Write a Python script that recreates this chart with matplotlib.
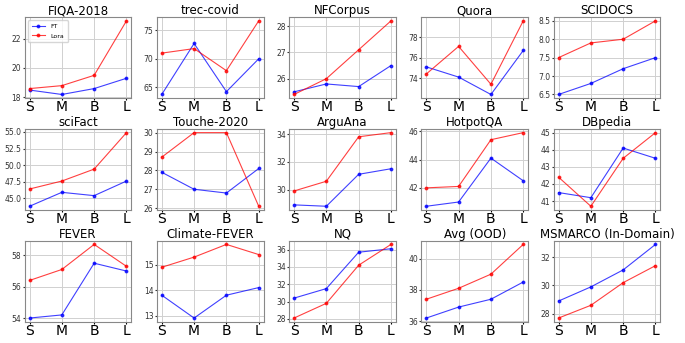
import matplotlib
matplotlib.use("Agg")
import matplotlib.pyplot as plt

sizes = ["S", "M", "B", "L"]

titles = [
    "FIQA-2018", "trec-covid", "NFCorpus", "Quora", "SCIDOCS",
    "sciFact", "Touche-2020", "ArguAna", "HotpotQA", "DBpedia",
    "FEVER", "Climate-FEVER", "NQ", "Avg (OOD)", "MSMARCO (In-Domain)",
]

ft_scores = [
    [18.5, 18.2, 18.6, 19.3],
    [63.7, 72.7, 64.2, 70.0],
    [25.5, 25.8, 25.7, 26.5],
    [75.1, 74.1, 72.4, 76.7],
    [6.5, 6.8, 7.2, 7.5],
    [43.8, 45.9, 45.4, 47.6],
    [27.9, 27.0, 26.8, 28.1],
    [28.9, 28.8, 31.1, 31.5],
    [40.7, 41.0, 44.1, 42.5],
    [41.5, 41.2, 44.1, 43.5],
    [54.0, 54.2, 57.5, 57.0],
    [13.8, 12.9, 13.8, 14.1],
    [30.4, 31.5, 35.7, 36.1],
    [36.2, 36.9, 37.4, 38.5],
    [28.9, 29.9, 31.1, 32.9],
]

lora_scores = [
    [18.6, 18.8, 19.5, 23.2],
    [71.0, 71.8, 67.9, 76.7],
    [25.4, 26.0, 27.1, 28.2],
    [74.4, 77.1, 73.4, 79.6],
    [7.5, 7.9, 8.0, 8.5],
    [46.4, 47.6, 49.4, 54.9],
    [28.7, 30.0, 30.0, 26.1],
    [29.9, 30.6, 33.8, 34.1],
    [42.0, 42.1, 45.4, 45.9],
    [42.4, 40.7, 43.5, 45.0],
    [56.4, 57.1, 58.7, 57.3],
    [14.9, 15.3, 15.8, 15.4],
    [28.1, 29.8, 34.2, 36.6],
    [37.4, 38.1, 39.0, 40.9],
    [27.7, 28.6, 30.2, 31.4],
]

fig, axes = plt.subplots(3, 5, figsize=(6.85, 3.43), dpi=100)
fig.subplots_adjust(left=0.036, right=0.964, top=0.95, bottom=0.062, wspace=0.24, hspace=0.38)

for i, ax in enumerate(axes.flat):
    ax.plot(sizes, ft_scores[i], color="blue", marker="o", ms=1.8, lw=0.8, alpha=0.75, label="FT")
    ax.plot(sizes, lora_scores[i], color="red", marker="o", ms=1.8, lw=0.8, alpha=0.75, label="Lora")
    ax.set_title(titles[i], fontsize=8.5, pad=1.5)
    ax.grid(True, color="#d0d0d0", lw=0.7)
    ax.set_axisbelow(True)
    ax.tick_params(axis="y", labelsize=5.5, length=1.5, pad=1, colors="#333333")
    ax.tick_params(axis="x", labelsize=10, length=1.5, pad=0)
    for sp in ax.spines.values():
        sp.set_color("#888888")
        sp.set_linewidth(0.8)
    if i == 0:
        ax.legend(loc="upper left", fontsize=4.5, handlelength=2.2, borderpad=0.6, labelspacing=0.6)

plt.savefig("out.png", dpi=100)
